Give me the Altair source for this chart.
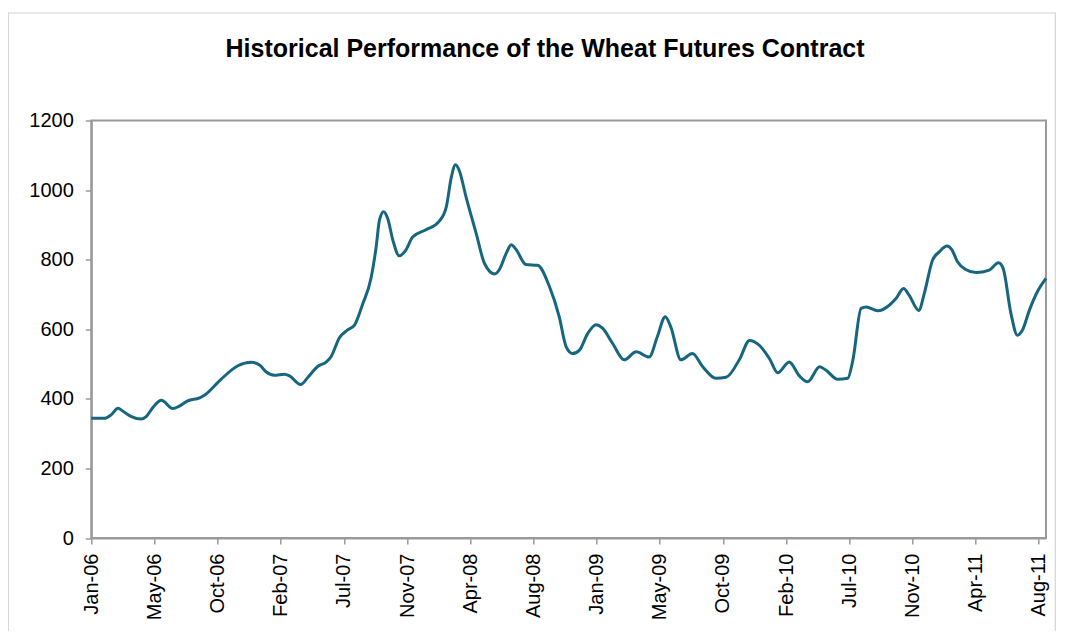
import altair as alt
import pandas as pd

# ---- data ----
dates = [
    "2006-01-03", "2006-02-01", "2006-02-15", "2006-03-02", "2006-03-12", "2006-03-31",
    "2006-04-21", "2006-05-02", "2006-05-17", "2006-06-04", "2006-06-29", "2006-07-13",
    "2006-07-31", "2006-08-26", "2006-09-06", "2006-10-12", "2006-11-17", "2006-12-16",
    "2007-01-03", "2007-01-17", "2007-02-04", "2007-02-26", "2007-03-09", "2007-04-02",
    "2007-04-18", "2007-05-09", "2007-05-28", "2007-06-07", "2007-06-25", "2007-07-13",
    "2007-07-28", "2007-08-14", "2007-09-02", "2007-09-13", "2007-09-20", "2007-09-29",
    "2007-10-08", "2007-10-19", "2007-11-02", "2007-11-17", "2007-12-01", "2007-12-30",
    "2008-01-28", "2008-02-12", "2008-02-23", "2008-03-03", "2008-03-11", "2008-03-26",
    "2008-04-17", "2008-05-05", "2008-05-27", "2008-06-06", "2008-06-21", "2008-07-02",
    "2008-07-12", "2008-08-03", "2008-08-28", "2008-09-23", "2008-10-14", "2008-10-29",
    "2008-11-12", "2008-11-27", "2008-12-15", "2009-01-02", "2009-01-16", "2009-02-07",
    "2009-03-04", "2009-03-30", "2009-04-27", "2009-05-15", "2009-06-01", "2009-06-13",
    "2009-07-05", "2009-07-30", "2009-08-21", "2009-09-19", "2009-10-11", "2009-11-09",
    "2009-12-01", "2009-12-22", "2010-01-13", "2010-01-31", "2010-02-25", "2010-03-19",
    "2010-04-06", "2010-05-02", "2010-05-16", "2010-06-10", "2010-07-02", "2010-07-13",
    "2010-07-31", "2010-08-11", "2010-09-05", "2010-09-30", "2010-10-15", "2010-10-31",
    "2010-11-12", "2010-12-03", "2010-12-15", "2011-01-02", "2011-01-17", "2011-02-02",
    "2011-02-13", "2011-02-25", "2011-03-15", "2011-04-06", "2011-05-05", "2011-05-25",
    "2011-06-04", "2011-06-21", "2011-07-05", "2011-07-16", "2011-07-31", "2011-08-17",
    "2011-09-05",
]
prices = [
    344, 344, 354, 373, 365, 349,
    342, 349, 376, 396, 372, 379,
    394, 403, 411, 457, 495, 505,
    497, 478, 468, 471, 466, 441,
    462, 493, 506, 521, 575, 598,
    612, 670, 748, 837, 913, 938,
    918, 857, 811, 829, 865, 886,
    911, 951, 1037, 1073, 1057, 980,
    875, 789, 759, 771, 818, 843,
    830, 786, 784, 722, 636, 550,
    530, 540, 588, 613, 603, 559,
    512, 535, 520, 579, 636, 607,
    512, 530, 493, 459, 462, 513,
    568, 554, 516, 475, 506, 466,
    449, 492, 482, 456, 459, 511,
    660, 664, 653, 669, 689, 717,
    698, 654, 703, 799, 823, 839,
    828, 794, 772, 763, 770, 791,
    775, 645, 583, 598, 655, 707,
    746,
]

# category-axis tick positions (evenly spaced, labelled by month)
tick_dates = [
    "2006-01-03", "2006-05-20", "2006-10-04", "2007-02-18", "2007-07-05", "2007-11-19",
    "2008-04-04", "2008-08-19", "2009-01-03", "2009-05-20", "2009-10-04", "2010-02-18",
    "2010-07-05", "2010-11-19", "2011-04-05", "2011-08-20",
]
x_domain = ["2006-01-03", "2011-09-05"]
y_ticks = [0, 200, 400, 600, 800, 1000, 1200]

title_text = "Historical Performance of the Wheat Futures Contract"


def dt(s):
    y, m, d = (int(p) for p in s.split("-"))
    return alt.DateTime(year=y, month=m, date=d, utc=True)


df = pd.DataFrame({"date": dates, "price": prices})

FONT = "Liberation Sans"
AXIS_GRAY = "#9a9a9a"

line = alt.Chart(df).mark_line(
    color="#17667f", strokeWidth=3, interpolate="monotone"
).encode(
    x=alt.X(
        "date:T",
        scale=alt.Scale(type="utc", domain=[dt(x_domain[0]), dt(x_domain[1])]),
        axis=alt.Axis(
            values=[dt(s) for s in tick_dates],
            labelExpr="utcFormat(datum.value, '%b-%y')",
            labelAngle=-90,
            labelPadding=9,
            title=None,
            grid=False,
            labelOverlap=False,
            labelFlush=False,
        ),
    ),
    y=alt.Y(
        "price:Q",
        scale=alt.Scale(domain=[0, 1200], nice=False),
        axis=alt.Axis(
            values=y_ticks,
            format="d",
            labelPadding=12,
            title=None,
            grid=False,
            labelFlush=False,
        ),
    ),
)

frame = alt.Chart(pd.DataFrame({"a": [0]})).mark_rect(
    fillOpacity=0, stroke="#d4d4d4", strokeWidth=1.2
).encode(
    x=alt.value(-83),
    x2=alt.value(964),
    y=alt.value(-107.5),
    y2=alt.value(540),
)

chart = alt.layer(frame, line).properties(
    width=954.7,
    height=417.5,
    autosize=alt.AutoSizeParams(type="none"),
    padding={"left": 83.3, "top": 112.5, "right": 11, "bottom": 93},
    title=alt.TitleParams(
        text=title_text,
        font=FONT,
        fontSize=25,
        fontWeight="bold",
        color="#000000",
        anchor="middle",
        baseline="alphabetic",
        offset=-70,
        dx=-23.6,
    ),
).configure_view(
    stroke=AXIS_GRAY, strokeWidth=2
).configure_axis(
    labelFont=FONT,
    labelFontSize=20,
    labelColor="#000000",
    domainColor=AXIS_GRAY,
    domainWidth=2,
    tickColor=AXIS_GRAY,
    tickWidth=1.5,
    tickSize=6,
)

chart.save("out.html", embed_options={"renderer": "svg", "actions": False})
